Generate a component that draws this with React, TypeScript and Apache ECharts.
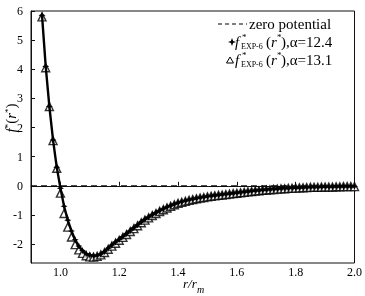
import React, { useEffect, useRef } from "react";
import * as echarts from "echarts";

const rGrid = [0.9375, 0.95, 0.9625, 0.975, 0.9875, 1.0, 1.0125, 1.025, 1.0375, 1.05, 1.0625, 1.075, 1.0875, 1.1, 1.1125, 1.125, 1.1375, 1.15, 1.1625, 1.175, 1.1875, 1.2, 1.2125, 1.225, 1.2375, 1.25, 1.2625, 1.275, 1.2875, 1.3, 1.3125, 1.325, 1.3375, 1.35, 1.3625, 1.375, 1.3875, 1.4, 1.4125, 1.425, 1.4375, 1.45, 1.4625, 1.475, 1.4875, 1.5, 1.5125, 1.525, 1.5375, 1.55, 1.5625, 1.575, 1.5875, 1.6, 1.6125, 1.625, 1.6375, 1.65, 1.6625, 1.675, 1.6875, 1.7, 1.7125, 1.725, 1.7375, 1.75, 1.7625, 1.775, 1.7875, 1.8, 1.8125, 1.825, 1.8375, 1.85, 1.8625, 1.875, 1.8875, 1.9, 1.9125, 1.925, 1.9375, 1.95, 1.9625, 1.975, 1.9875, 2.0];

// alpha = 12.4 (filled stars, with solid line)
const fAlpha124 = [5.85, 4.10, 2.72, 1.57, 0.64, -0.08, -0.70, -1.18, -1.55, -1.85, -2.07, -2.22, -2.33, -2.38, -2.40, -2.39, -2.34, -2.26, -2.14, -2.03, -1.93, -1.84, -1.74, -1.64, -1.54, -1.44, -1.34, -1.24, -1.15, -1.07, -0.99, -0.92, -0.85, -0.79, -0.73, -0.68, -0.63, -0.58, -0.545, -0.51, -0.48, -0.455, -0.43, -0.405, -0.385, -0.365, -0.345, -0.33, -0.315, -0.30, -0.285, -0.27, -0.255, -0.24, -0.225, -0.21, -0.195, -0.18, -0.165, -0.155, -0.14, -0.13, -0.12, -0.11, -0.10, -0.09, -0.085, -0.08, -0.07, -0.065, -0.06, -0.055, -0.05, -0.045, -0.04, -0.04, -0.035, -0.03, -0.03, -0.03, -0.025, -0.025, -0.02, -0.02, -0.02, -0.02];

// alpha = 13.1 (open triangles)
const fAlpha131 = [5.80, 4.05, 2.72, 1.55, 0.60, -0.25, -0.95, -1.42, -1.76, -2.02, -2.20, -2.32, -2.40, -2.44, -2.45, -2.42, -2.37, -2.29, -2.18, -2.07, -1.97, -1.87, -1.77, -1.67, -1.57, -1.47, -1.37, -1.27, -1.18, -1.10, -1.02, -0.95, -0.88, -0.82, -0.76, -0.70, -0.65, -0.60, -0.565, -0.53, -0.50, -0.47, -0.445, -0.42, -0.40, -0.38, -0.36, -0.345, -0.33, -0.315, -0.30, -0.285, -0.27, -0.255, -0.24, -0.225, -0.21, -0.195, -0.18, -0.17, -0.155, -0.145, -0.135, -0.125, -0.115, -0.105, -0.10, -0.09, -0.085, -0.08, -0.07, -0.065, -0.06, -0.055, -0.05, -0.05, -0.045, -0.04, -0.04, -0.04, -0.035, -0.035, -0.03, -0.03, -0.03, -0.03];

const zeroLine = [[0.9, 0], [2.0, 0]];

const xTicks = [1.0, 1.2, 1.4, 1.6, 1.8, 2.0];
const yTicks = [-2, -1, 0, 1, 2, 3, 4, 5, 6];

const FONT = "Liberation Serif";
const STAR = "path://M0,-5 L1.5,-1.5 L5,0 L1.5,1.5 L0,5 L-1.5,1.5 L-5,0 L-1.5,-1.5 Z";

export default function App() {
  const ref = useRef<HTMLDivElement>(null);
  useEffect(() => {
    if (!ref.current) return;
    const chart = echarts.init(ref.current, null, { renderer: "svg" });
    const pairsA = rGrid.map((r, i) => [r, fAlpha124[i]]);
    const pairsB = rGrid.map((r, i) => [r, fAlpha131[i]]);
    const txt = (x: number, y: number, text: string, size: number, italic = false, align = "left") => ({
      type: "text",
      x,
      y,
      style: {
        text,
        fontFamily: FONT,
        fontSize: size,
        fontStyle: italic ? "italic" : "normal",
        fill: "#000",
        verticalAlign: "middle",
        align,
      },
    });
    const legendEntry = (y: number, label: string) => [
      txt(235, y, "f", 15, true),
      txt(242, y - 5, "*", 9),
      txt(241, y + 4, "EXP-6", 8),
      txt(266, y, "(", 15),
      txt(271, y, "r", 15, true),
      txt(277, y - 5, "*", 9),
      txt(281, y, ")," + label, 15),
    ];
    chart.setOption({
      animation: false,
      grid: {
        left: 31,
        right: 8,
        top: 11,
        bottom: 33,
        show: true,
        borderColor: "#111",
        borderWidth: 1,
        backgroundColor: "transparent",
      },
      xAxis: {
        type: "value",
        min: 0.9,
        max: 2.0,
        splitLine: { show: false },
        axisLine: { show: true, lineStyle: { color: "#111", width: 1 } },
        axisTick: { show: true, inside: true, length: 4, customValues: xTicks, lineStyle: { color: "#111" } },
        axisLabel: {
          customValues: xTicks,
          formatter: (v: number) => v.toFixed(1),
          fontFamily: FONT,
          fontSize: 12,
          color: "#000",
          margin: 3,
        },
      },
      yAxis: {
        type: "value",
        min: -2.65,
        max: 6,
        splitLine: { show: false },
        axisLine: { show: true, lineStyle: { color: "#111", width: 1 } },
        axisTick: { show: true, inside: true, length: 4, customValues: yTicks, lineStyle: { color: "#111" } },
        axisLabel: {
          customValues: yTicks,
          formatter: (v: number) => String(v),
          fontFamily: FONT,
          fontSize: 12,
          color: "#000",
          margin: 8,
        },
      },
      series: [
        {
          name: "zero potential",
          type: "line",
          data: zeroLine,
          symbol: "none",
          lineStyle: { color: "#000", width: 1, type: [6, 4] },
          z: 1,
        },
        {
          name: "alpha=13.1",
          type: "scatter",
          data: pairsB,
          symbol: "triangle",
          symbolSize: 8,
          itemStyle: { color: "#fff", borderColor: "#000", borderWidth: 1.4 },
          z: 2,
        },
        {
          name: "alpha=12.4",
          type: "line",
          data: pairsA,
          symbol: STAR,
          symbolSize: 7,
          showAllSymbol: true,
          itemStyle: { color: "#000", borderWidth: 0 },
          lineStyle: { color: "#000", width: 2.4 },
          z: 3,
        },
      ],
      graphic: [
        { type: "line", shape: { x1: 218, y1: 24, x2: 247, y2: 24 }, style: { stroke: "#000", lineWidth: 1, lineDash: [4, 3] } },
        txt(249, 24, "zero potential", 15),
        {
          type: "polygon",
          shape: { points: [[232, 38], [233.1, 40.9], [236, 42], [233.1, 43.1], [232, 46], [230.9, 43.1], [228, 42], [230.9, 40.9]] },
          style: { fill: "#000" },
        },
        ...legendEntry(42, "α=12.4"),
        {
          type: "polygon",
          shape: { points: [[230, 57], [233.5, 63], [226.5, 63]] },
          style: { fill: "none", stroke: "#000", lineWidth: 1 },
        },
        ...legendEntry(60, "α=13.1"),
        {
          type: "text",
          x: 11,
          y: 118,
          rotation: Math.PI / 2,
          style: {
            text: "{i|f}{s|*}{n|(}{i|r}{s|*}{n|)}",
            align: "center",
            verticalAlign: "middle",
            rich: {
              i: { fontFamily: FONT, fontSize: 15, fontStyle: "italic", fill: "#000", lineHeight: 16 },
              n: { fontFamily: FONT, fontSize: 15, fill: "#000", lineHeight: 16 },
              s: { fontFamily: FONT, fontSize: 9, fill: "#000", lineHeight: 9, verticalAlign: "top" },
            },
          },
        },
        txt(183, 283, "r/r", 13, true),
        txt(197, 289, "m", 10, true),
      ],
    });
    return () => chart.dispose();
  }, []);
  return <div ref={ref} style={{ position: "fixed", left: 0, top: 0, width: 365, height: 296 }} />;
}
